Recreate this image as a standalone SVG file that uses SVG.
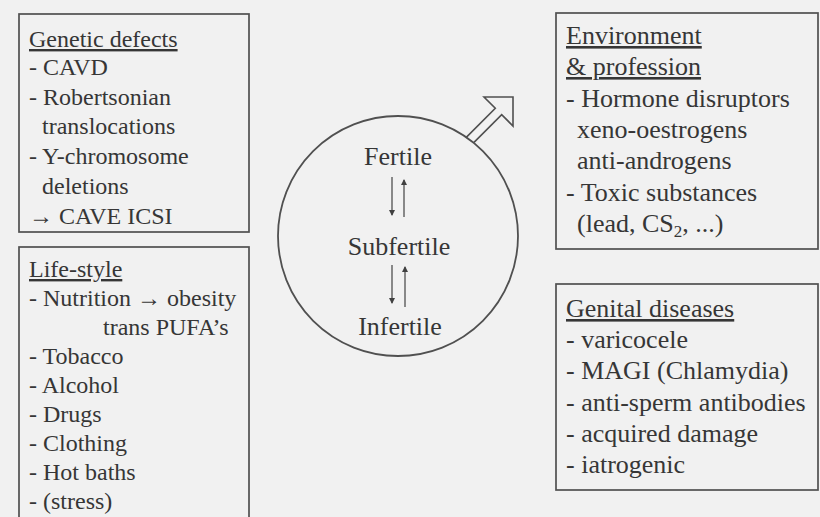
<svg xmlns="http://www.w3.org/2000/svg" width="820" height="517" viewBox="0 0 820 517" font-family="'Liberation Serif', 'Times New Roman', serif">
<style>
  .bg { fill: #f1f1f1; }
  .box { fill: none; stroke: #505050; stroke-width: 1.7; }
  text { font-family: 'Liberation Serif', 'Times New Roman', serif; fill: #363636; }
  .l { font-size: 24px; }
  .r { font-size: 26px; }
  .c { font-size: 26px; text-anchor: middle; }
  .hd { text-decoration: underline; }
  .ln { stroke: #505050; stroke-width: 1.3; fill: none; }
  .sym { stroke: #505050; stroke-width: 1.6; fill: none; stroke-linejoin: miter; }
  .ring { fill: none; stroke: #505050; stroke-width: 1.8; }
</style>
<defs>
  <marker id="ah" markerWidth="6" markerHeight="8" refX="5" refY="4" orient="auto" markerUnits="userSpaceOnUse">
    <path d="M0,1 L6,4 L0,7 Z" fill="#404040"/>
  </marker>
</defs>
<rect class="bg" x="0" y="0" width="820" height="517"/>

<g id="genetic-defects">
  <rect class="box" x="19" y="14" width="230" height="218"/>
  <text class="l hd" x="29" y="47">Genetic defects</text>
  <text class="l" x="29" y="75">- CAVD</text>
  <text class="l" x="29" y="105">- Robertsonian</text>
  <text class="l" x="42" y="134">translocations</text>
  <text class="l" x="29" y="164">- Y-chromosome</text>
  <text class="l" x="42" y="194">deletions</text>
  <text class="l" x="29" y="224">→ CAVE ICSI</text>
</g>

<g id="life-style">
  <rect class="box" x="19" y="247" width="230" height="280"/>
  <text class="l hd" x="29" y="277">Life-style</text>
  <text class="l" x="29" y="306">- Nutrition → obesity</text>
  <text class="l" x="103" y="335">trans PUFA’s</text>
  <text class="l" x="29" y="364">- Tobacco</text>
  <text class="l" x="29" y="393">- Alcohol</text>
  <text class="l" x="29" y="422">- Drugs</text>
  <text class="l" x="29" y="451">- Clothing</text>
  <text class="l" x="29" y="480">- Hot baths</text>
  <text class="l" x="29" y="509">- (stress)</text>
</g>

<g id="fertility-circle">
  <circle class="ring" cx="398" cy="236" r="120"/>
  <path class="sym" d="M466,137.6 L495.3,108.3 L484,97 L513,97 L513,126 L501.7,114.7 L474,142.4"/>
  <text class="c" x="398" y="165">Fertile</text>
  <text class="c" x="399" y="255">Subfertile</text>
  <text class="c" x="400" y="335">Infertile</text>
</g>

<g id="environment">
  <rect class="box" x="556" y="13" width="262" height="236"/>
  <text class="r hd" x="566" y="44">Environment</text>
  <text class="r hd" x="566" y="75">&amp; profession</text>
  <text class="r" x="566" y="107">- Hormone disruptors</text>
  <text class="r" x="577" y="138">xeno-oestrogens</text>
  <text class="r" x="577" y="169">anti-androgens</text>
  <text class="r" x="566" y="201">- Toxic substances</text>
  <text class="r" x="577" y="232">(lead, CS<tspan font-size="17" dy="5">2</tspan><tspan dy="-5">, ...)</tspan></text>
</g>

<g id="genital-diseases">
  <rect class="box" x="556" y="284" width="262" height="206"/>
  <text class="r hd" x="566" y="317">Genital diseases</text>
  <text class="r" x="566" y="348">- varicocele</text>
  <text class="r" x="566" y="379">- MAGI (Chlamydia)</text>
  <text class="r" x="566" y="411">- anti-sperm antibodies</text>
  <text class="r" x="566" y="442">- acquired damage</text>
  <text class="r" x="566" y="473">- iatrogenic</text>
</g>

<g id="connectors">
  <line class="ln" x1="392" y1="177" x2="392" y2="215" marker-end="url(#ah)"/>
  <line class="ln" x1="404" y1="217" x2="404" y2="180" marker-end="url(#ah)"/>
  <line class="ln" x1="392" y1="265" x2="392" y2="303" marker-end="url(#ah)"/>
  <line class="ln" x1="405" y1="307" x2="405" y2="267" marker-end="url(#ah)"/>
</g>
</svg>
